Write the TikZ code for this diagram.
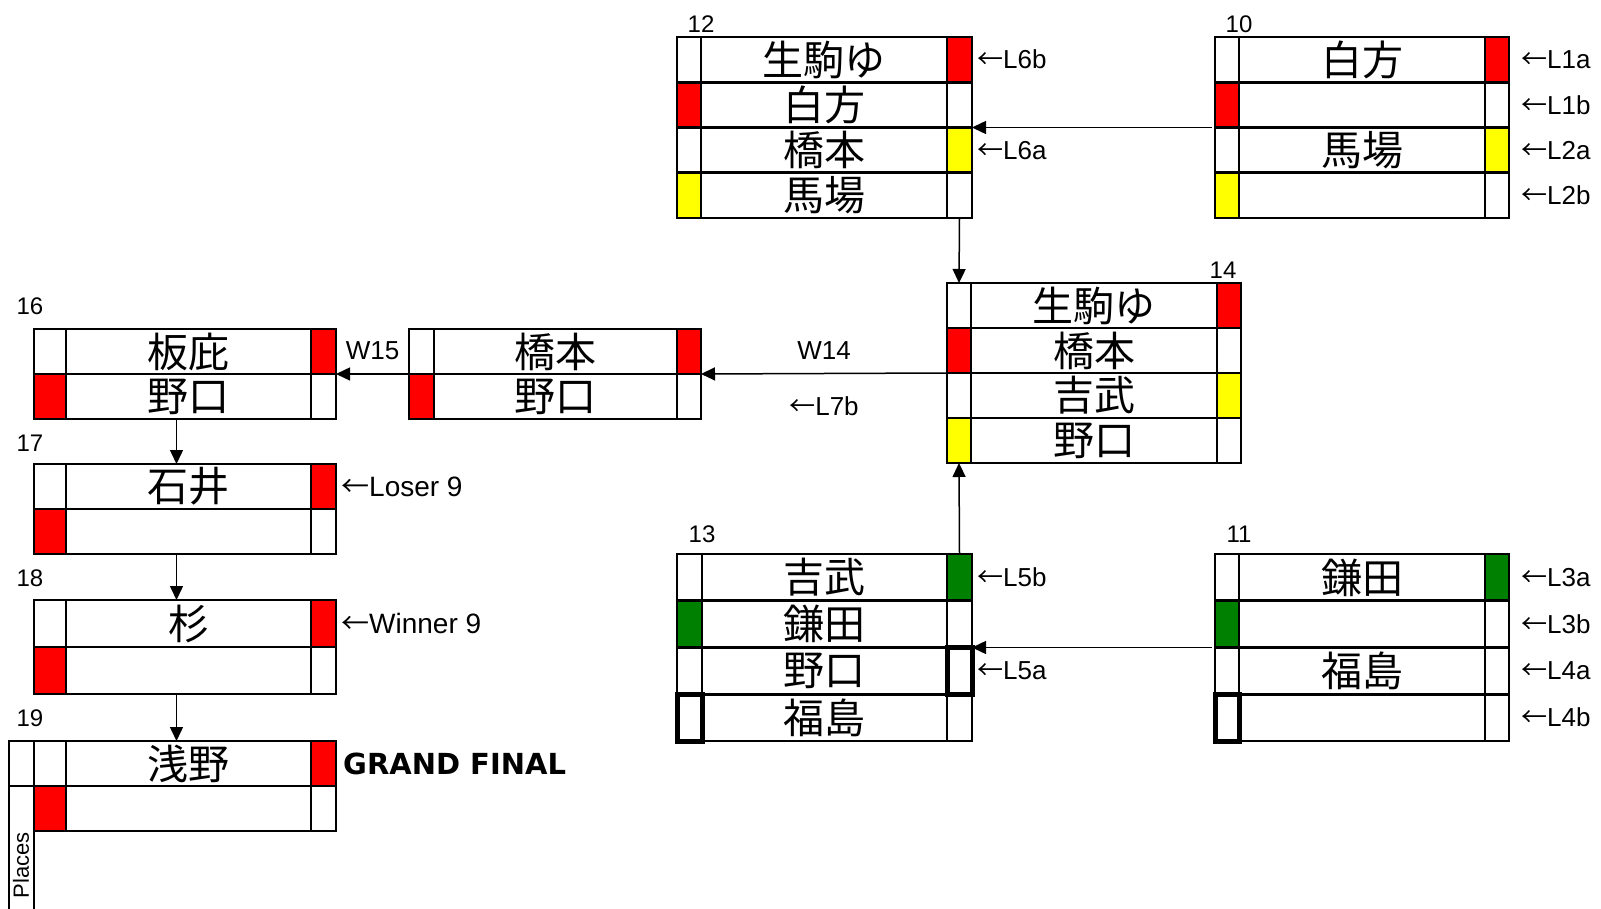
\documentclass[tikz,border=0pt]{standalone}
\usepackage{fontspec}
\setmainfont{Noto Sans CJK JP}
\newfontfamily\latinfont{Liberation Sans}
\newfontfamily\titlefont{DejaVu Sans}
\usetikzlibrary{arrows.meta}
\usetikzlibrary{positioning}

\definecolor{winred}{HTML}{FF0000}
\definecolor{winyellow}{HTML}{FFFF00}
\definecolor{wingreen}{HTML}{008000}

\newcommand{\inarrow}{{\rmfamily ←}}

\tikzset{
  cell/.style={draw, line width=2.8pt, inner sep=0pt, outer sep=0pt},
  namecell/.style={cell, font=\fontsize{41}{41}\selectfont},
  hlcell/.style={draw, line width=5pt},
  link/.style={-{Triangle[length=14pt,width=13pt]}, line width=1.5pt},
  numlabel/.style={inner sep=0pt, font=\latinfont\fontsize{24}{24}\selectfont},
  sidelabel/.style={inner sep=0pt, font=\latinfont\fontsize{26}{26}\selectfont},
}

% #1 id, #2 left x, #3 top y, #4 row height, #5/#6/#7 cell widths, #8 rows
\newcommand{\matchbox}[8]{%
  \foreach \rowi/\lfill/\pname/\rfill in {#8} {
    \node[cell, minimum width=#5pt, minimum height=#4pt, fill=\lfill] (#1l\rowi) at ({#2+#5/2}, {#3+#4*(\rowi-0.5)}) {};
    \node[namecell, minimum width=#6pt, minimum height=#4pt, right=0pt of #1l\rowi] (#1n\rowi) {\pname};
    \node[cell, minimum width=#7pt, minimum height=#4pt, fill=\rfill, right=0pt of #1n\rowi] (#1r\rowi) {};
  }%
}

\begin{document}
\begin{tikzpicture}[x=1pt, y=-1pt]
  \useasboundingbox (0,0) rectangle (1601,909);
  \coordinate (pagebottom) at (0,909);

  % upper bracket
  \matchbox{b12}{677}{37}{45.25}{24}{246}{25}{1/white/生駒ゆ/winred, 2/winred/白方/white, 3/white/橋本/winyellow, 4/winyellow/馬場/white}
  \matchbox{b10}{1215}{37}{45.25}{24}{246}{24}{1/white/白方/winred, 2/winred//white, 3/white/馬場/winyellow, 4/winyellow//white}
  \matchbox{b14}{947}{283}{45}{24}{246}{24}{1/white/生駒ゆ/winred, 2/winred/橋本/white, 3/white/吉武/winyellow, 4/winyellow/野口/white}
  \matchbox{b13}{677}{554}{46.75}{25}{245}{25}{1/white/吉武/wingreen, 2/wingreen/鎌田/white, 3/white/野口/white, 4/white/福島/white}
  \matchbox{b11}{1215}{554}{46.75}{24}{246}{24}{1/white/鎌田/wingreen, 2/wingreen//white, 3/white/福島/white, 4/white//white}

  % left column
  \matchbox{b15}{409}{329}{45}{25}{243}{24}{1/white/橋本/winred, 2/winred/野口/white}
  \matchbox{b16}{34}{329}{45}{32}{245}{25}{1/white/板庇/winred, 2/winred/野口/white}
  \matchbox{b17}{34}{464}{45}{32}{245}{25}{1/white/石井/winred, 2/winred//white}
  \matchbox{b18}{34}{600}{47}{32}{245}{25}{1/white/杉/winred, 2/winred//white}
  \matchbox{b19}{34}{741}{45}{32}{245}{25}{1/white/浅野/winred, 2/winred//white}

  % places column
  \node[cell, minimum width=25pt, minimum height=45pt, left=0pt of b19l1] (b19p1) {};
  \draw[line width=2.8pt] (b19p1.south west) -- (b19p1.south west |- pagebottom);
  \draw[line width=2.8pt] (b19p1.south east) -- (b19p1.south east |- pagebottom);
  \node[rotate=90, inner sep=0pt, font=\latinfont\fontsize{22}{22}\selectfont] (places) at (21,865) {Places};

  % open slots
  \draw[hlcell] (b13r3.north west) rectangle (b13r3.south east);
  \draw[hlcell] (b13l4.north west) rectangle (b13l4.south east);
  \draw[hlcell] (b11l4.north west) rectangle (b11l4.south east);

  % match numbers
  \node[numlabel, above=4pt of b12l1.north east] (num12) {12};
  \node[numlabel, above=4pt of b10l1.north east] (num10) {10};
  \node[numlabel, above=4pt of b14r1.north, xshift=-6pt] (num14) {14};
  \node[numlabel, above=11pt of b13l1.north east] (num13) {13};
  \node[numlabel, above=11pt of b11l1.north east] (num11) {11};
  \node[numlabel, above=14pt of b16l1.north west, xshift=-4pt] (num16) {16};
  \node[numlabel, above=12pt of b17l1.north west, xshift=-4pt] (num17) {17};
  \node[numlabel, above=13pt of b18l1.north west, xshift=-4pt] (num18) {18};
  \node[numlabel, above=14pt of b19l1.north west, xshift=-4pt] (num19) {19};

  % entry labels
  \node[sidelabel, right=5pt of b12r1] (l6b) {\inarrow L6b};
  \node[sidelabel, right=5pt of b12r3] (l6a) {\inarrow L6a};
  \node[sidelabel, right=12pt of b10r1] (l1a) {\inarrow L1a};
  \node[sidelabel, right=12pt of b10r2] (l1b) {\inarrow L1b};
  \node[sidelabel, right=12pt of b10r3] (l2a) {\inarrow L2a};
  \node[sidelabel, right=12pt of b10r4] (l2b) {\inarrow L2b};
  \node[sidelabel, right=5pt of b13r1] (l5b) {\inarrow L5b};
  \node[sidelabel, right=5pt of b13r3] (l5a) {\inarrow L5a};
  \node[sidelabel, right=12pt of b11r1] (l3a) {\inarrow L3a};
  \node[sidelabel, right=12pt of b11r2] (l3b) {\inarrow L3b};
  \node[sidelabel, right=12pt of b11r3] (l4a) {\inarrow L4a};
  \node[sidelabel, right=12pt of b11r4] (l4b) {\inarrow L4b};
  \node[sidelabel, font=\latinfont\fontsize{28}{28}\selectfont, right=5pt of b17r1] (loser9) {\inarrow Loser 9};
  \node[sidelabel, font=\latinfont\fontsize{28}{28}\selectfont, right=5pt of b18r1] (winner9) {\inarrow Winner 9};
  \node[inner sep=0pt, font=\titlefont\bfseries\fontsize{29}{29}\selectfont, right=7pt of b19r1] (final) {GRAND FINAL};

  % connectors
  \draw[link, shorten <=3pt] (b10l2.south west) -- (b12r2.south east);
  \draw[link, shorten <=3pt] (b11l2.south west) -- (b13r2.south east);
  \draw[link] (b12r4.south) -- (b14l1.north);
  \draw[link] (b13r1.north) -- (b14l4.south);
  \draw[link] (b14l2.south west) -- node[sidelabel, above=13pt] (w14) {W14} node[sidelabel, below=22pt] (l7b) {\inarrow L7b} (b15r1.south east);
  \draw[link] (b15l1.south west) -- node[sidelabel, above=13pt] (w15) {W15} (b16r1.south east);
  \draw[link] ([xshift=-12pt]b16n2.south) -- ([xshift=-12pt]b17n1.north);
  \draw[link] ([xshift=-12pt]b17n2.south) -- ([xshift=-12pt]b18n1.north);
  \draw[link] ([xshift=-12pt]b18n2.south) -- ([xshift=-12pt]b19n1.north);
\end{tikzpicture}
\end{document}
